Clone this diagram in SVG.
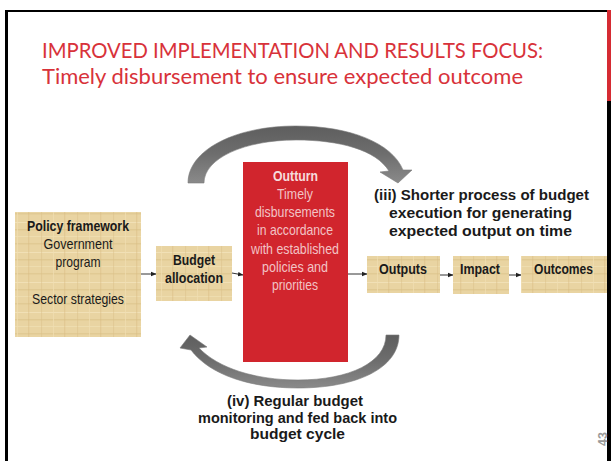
<svg xmlns="http://www.w3.org/2000/svg" width="612" height="461" viewBox="0 0 612 461">
  <defs>
    <style>
      .title { font-family: Lato, "Open Sans", sans-serif; font-size: 21px; fill: #d8323a; }
      .nar { font-family: "Liberation Sans Narrow", "Liberation Sans", Arial, sans-serif; font-size: 15px; fill: #1a1a1a; text-anchor: middle; }
      .b { font-weight: bold; }
      .red { font-family: "Liberation Sans Narrow", "Liberation Sans", Arial, sans-serif; font-size: 14.5px; fill: #f2c3c5; text-anchor: middle; }
      .cap { font-family: "Liberation Sans", Arial, sans-serif; font-size: 14px; font-weight: bold; fill: #1a1a1a; text-anchor: middle; }
      .papyrus { fill: url(#pap); }
      .conn { stroke: #333; stroke-width: 1; fill: none; marker-end: url(#ah); }
      .big { fill: url(#grey); stroke: #7a7a7a; stroke-width: 0.6; }
    </style>
    <pattern id="pap" width="36" height="30" patternUnits="userSpaceOnUse">
      <rect width="36" height="30" fill="#e9d4a2"/>
      <rect x="0" y="3" width="36" height="1.5" fill="#dcc38b" opacity="0.6"/>
      <rect x="0" y="12" width="36" height="1" fill="#f3e3bb" opacity="0.8"/>
      <rect x="0" y="19" width="36" height="1.5" fill="#d8bd84" opacity="0.5"/>
      <rect x="0" y="26" width="36" height="1" fill="#f2e1b6" opacity="0.7"/>
      <rect x="5" y="0" width="1.2" height="30" fill="#d9bf88" opacity="0.45"/>
      <rect x="17" y="0" width="1" height="30" fill="#f1dfb3" opacity="0.7"/>
      <rect x="28" y="0" width="1.4" height="30" fill="#d6ba80" opacity="0.4"/>
    </pattern>
    <linearGradient id="grey" x1="0" y1="0" x2="0" y2="1">
      <stop offset="0" stop-color="#5e5e5e"/>
      <stop offset="0.5" stop-color="#6e6e6e"/>
      <stop offset="1" stop-color="#8a8a8a"/>
    </linearGradient>
    <marker id="ah" markerWidth="6" markerHeight="6" refX="5" refY="3" orient="auto" markerUnits="userSpaceOnUse">
      <path d="M0,0.8 L5.5,3 L0,5.2 Z" fill="#222"/>
    </marker>
  </defs>

  <rect width="612" height="461" fill="#ffffff"/>

  <!-- frame -->
  <g id="frame">
    <rect x="5" y="10" width="602" height="2" fill="#000"/>
    <rect x="5" y="10" width="3" height="451" fill="#000"/>
    <rect x="607" y="10" width="4" height="91" fill="#d52b33"/>
    <rect x="607" y="101" width="4" height="360" fill="#000"/>
  </g>

  <g id="title">
    <text class="title" x="42" y="58" textLength="501" lengthAdjust="spacingAndGlyphs">IMPROVED IMPLEMENTATION AND RESULTS FOCUS:</text>
    <text class="title" x="42" y="84" textLength="481" lengthAdjust="spacingAndGlyphs">Timely disbursement to ensure expected outcome</text>
  </g>

  <g id="connectors">
    <line class="conn" x1="141" y1="274" x2="156" y2="274"/>
    <line class="conn" x1="232" y1="273" x2="243" y2="275"/>
    <line class="conn" x1="348" y1="274" x2="367" y2="274"/>
    <line class="conn" x1="440" y1="275" x2="453" y2="275"/>
    <line class="conn" x1="509" y1="275" x2="521" y2="275"/>
    <path id="arc-top" class="big" d="M188,183 L204,183 C204,158 245,140 296,140 C340,140 376,150 389,171 L380,172 L398,183 L412,170 L403,170 C392,143 350,126 296,126 C235,126 188,150 188,183 Z"/>
    <path id="arc-bottom" class="big" d="M386,335 L399,335 C399,368 357,388 298,388 C250,388 210,375 191,350 L180,348 L190,335 L207,347 L199,348 C218,368 255,380 298,380 C350,380 386,362 386,335 Z"/>
  </g>

  <g id="policy">
    <rect class="papyrus" x="15" y="212" width="126" height="125"/>
    <text class="nar b" x="78" y="231" textLength="102" lengthAdjust="spacingAndGlyphs">Policy framework</text>
    <text class="nar" x="78" y="249" textLength="69" lengthAdjust="spacingAndGlyphs">Government</text>
    <text class="nar" x="78" y="267" textLength="45" lengthAdjust="spacingAndGlyphs">program</text>
    <text class="nar" x="78" y="304" textLength="92" lengthAdjust="spacingAndGlyphs">Sector strategies</text>
  </g>

  <g id="budget">
    <rect class="papyrus" x="156" y="246" width="76" height="55"/>
    <text class="nar b" x="194" y="265" textLength="42" lengthAdjust="spacingAndGlyphs">Budget</text>
    <text class="nar b" x="194" y="283" textLength="58" lengthAdjust="spacingAndGlyphs">allocation</text>
  </g>

  <g id="outturn">
    <rect x="243" y="162" width="105" height="200" fill="#d1252d"/>
    <text class="red b" x="295.5" y="181" fill="#f6dede" style="fill:#f6dcdc" textLength="45" lengthAdjust="spacingAndGlyphs">Outturn</text>
    <text class="red" x="295" y="199" textLength="36" lengthAdjust="spacingAndGlyphs">Timely</text>
    <text class="red" x="295" y="217" textLength="80" lengthAdjust="spacingAndGlyphs">disbursements</text>
    <text class="red" x="295" y="235" textLength="76" lengthAdjust="spacingAndGlyphs">in accordance</text>
    <text class="red" x="295" y="254" textLength="88" lengthAdjust="spacingAndGlyphs">with established</text>
    <text class="red" x="295" y="272" textLength="66" lengthAdjust="spacingAndGlyphs">policies and</text>
    <text class="red" x="295" y="290" textLength="46" lengthAdjust="spacingAndGlyphs">priorities</text>
  </g>

  <g id="outputs">
    <rect class="papyrus" x="367" y="256" width="73" height="37"/>
    <text class="nar b" x="403" y="274" textLength="48" lengthAdjust="spacingAndGlyphs">Outputs</text>
  </g>
  <g id="impact">
    <rect class="papyrus" x="453" y="256" width="56" height="38"/>
    <text class="nar b" x="480" y="274" textLength="40" lengthAdjust="spacingAndGlyphs">Impact</text>
  </g>
  <g id="outcomes">
    <rect class="papyrus" x="521" y="256" width="86" height="37"/>
    <text class="nar b" x="563.5" y="274" textLength="59" lengthAdjust="spacingAndGlyphs">Outcomes</text>
  </g>

  <g id="label-iii">
    <text class="cap" x="481.5" y="200" textLength="215" lengthAdjust="spacingAndGlyphs">(iii) Shorter process of budget</text>
    <text class="cap" x="480.5" y="218" textLength="183" lengthAdjust="spacingAndGlyphs">execution for generating</text>
    <text class="cap" x="480.5" y="236" textLength="183" lengthAdjust="spacingAndGlyphs">expected output on time</text>
  </g>

  <g id="label-iv">
    <text class="cap" x="295" y="406" textLength="136" lengthAdjust="spacingAndGlyphs">(iv) Regular budget</text>
    <text class="cap" x="297.5" y="423" textLength="199" lengthAdjust="spacingAndGlyphs">monitoring and fed back into</text>
    <text class="cap" x="297.5" y="439" textLength="95" lengthAdjust="spacingAndGlyphs">budget cycle</text>
  </g>

  <g id="page-number">
    <text x="0" y="0" transform="translate(607,439) rotate(-90)" font-family="Liberation Sans, Arial, sans-serif" font-size="12.5" font-weight="bold" fill="#9a9a9a" text-anchor="middle">43</text>
  </g>
</svg>
